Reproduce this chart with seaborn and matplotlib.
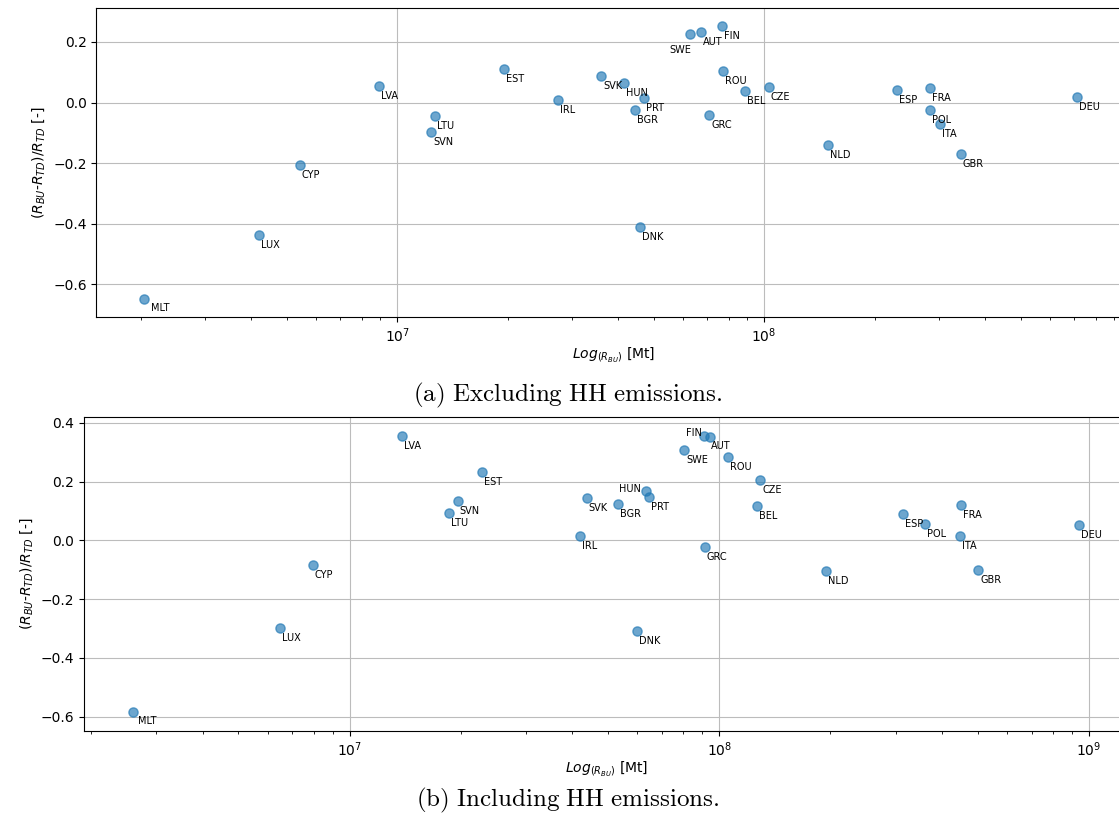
import numpy as np
import pandas as pd
import seaborn as sns
import matplotlib
matplotlib.use("Agg")
import matplotlib.pyplot as plt

# country codes, same order for both panels
countries = ["MLT", "LUX", "CYP", "LVA", "LTU", "SVN", "EST", "IRL", "SVK",
             "HUN", "PRT", "BGR", "DNK", "SWE", "AUT", "FIN", "ROU", "GRC",
             "BEL", "CZE", "NLD", "ESP", "FRA", "POL", "ITA", "GBR", "DEU"]

# (a) excluding HH emissions
r_bu_excl = [2.05e6, 4.20e6, 5.43e6, 8.91e6, 1.27e7, 1.24e7, 1.95e7, 2.74e7, 3.60e7,
             4.16e7, 4.70e7, 4.44e7, 4.59e7, 6.28e7, 6.73e7, 7.67e7, 7.71e7, 7.08e7,
             8.87e7, 1.03e8, 1.49e8, 2.30e8, 2.84e8, 2.83e8, 3.02e8, 3.43e8, 7.10e8]
rel_excl = [-0.647, -0.437, -0.205, 0.055, -0.046, -0.097, 0.111, 0.009, 0.088,
            0.065, 0.015, -0.024, -0.409, 0.226, 0.232, 0.253, 0.105, -0.040,
            0.039, 0.051, -0.140, 0.043, 0.047, -0.024, -0.071, -0.169, 0.018]

# (b) including HH emissions
r_bu_incl = [2.60e6, 6.50e6, 7.94e6, 1.387e7, 1.857e7, 1.96e7, 2.28e7, 4.21e7, 4.38e7,
             6.35e7, 6.44e7, 5.32e7, 6.00e7, 8.05e7, 9.46e7, 9.12e7, 1.055e8, 9.14e7,
             1.264e8, 1.29e8, 1.94e8, 3.15e8, 4.50e8, 3.61e8, 4.47e8, 5.02e8, 9.40e8]
rel_incl = [-0.585, -0.298, -0.084, 0.354, 0.093, 0.135, 0.2315, 0.016, 0.143,
            0.167, 0.147, 0.1226, -0.310, 0.307, 0.352, 0.356, 0.285, -0.023,
            0.116, 0.204, -0.106, 0.091, 0.120, 0.0555, 0.016, -0.101, 0.051]

# label placement (pixels right / down from the point), default otherwise
DEFAULT_OFF = (2, 5)
offsets_excl = {"MLT": (7, 4), "SWE": (-21, 11)}
offsets_incl = {"MLT": (5, 4), "FIN": (-18, -8), "HUN": (-27, -7), "AUT": (1, 4)}

W, H = 1119, 823
fig = plt.figure(figsize=(W / 100, H / 100), dpi=100)


def px_axes(left, top, right, bottom):
    return fig.add_axes([left / W, (H - bottom) / H, (right - left) / W, (bottom - top) / H])


def panel(ax, x, y, offsets, xlim, ylim):
    df = pd.DataFrame({"country": countries, "r_bu": x, "rel": y})
    sns.scatterplot(data=df, x="r_bu", y="rel", ax=ax, color="C0", alpha=0.65,
                    s=44, edgecolor="C0", linewidth=1)
    ax.set_xscale("log")
    ax.set_xlim(*xlim)
    ax.set_ylim(*ylim)
    ax.grid(True, which="major", color="#bcbcbc", linewidth=0.8)
    ax.set_axisbelow(True)
    for c, xi, yi in zip(df.country, df.r_bu, df.rel):
        dx, dy = offsets.get(c, DEFAULT_OFF)
        ax.annotate(c, (xi, yi), xytext=(dx, -dy), textcoords="offset pixels",
                    ha="left", va="top", fontsize=7)
    ax.set_xlabel(r"$Log_{(R_{BU})}$ [Mt]", fontsize=10, labelpad=0.5)
    ax.set_ylabel(r"$(R_{BU}$-$R_{TD})/R_{TD}$ [-]", fontsize=10)
    ax.spines["right"].set_visible(False)


ax1 = px_axes(96.4, 8, 1130, 316.7)
panel(ax1, r_bu_excl, rel_excl, offsets_excl,
      (10 ** 6.1807, 10 ** 8.997), (-0.7066, 0.312))

ax2 = px_axes(83.9, 417.3, 1130, 730.7)
panel(ax2, r_bu_incl, rel_incl, offsets_incl,
      (10 ** 6.2811, 10 ** 9.1115), (-0.648, 0.4188))

fig.text(568 / W, (H - 395) / H, r"$\mathrm{(a)\ Excluding\ HH\ emissions.}$",
         math_fontfamily="cm", fontsize=18, ha="center", va="center")
fig.text(568 / W, (H - 800) / H, r"$\mathrm{(b)\ Including\ HH\ emissions.}$",
         math_fontfamily="cm", fontsize=18, ha="center", va="center")

fig.savefig("out.png", dpi=100)
